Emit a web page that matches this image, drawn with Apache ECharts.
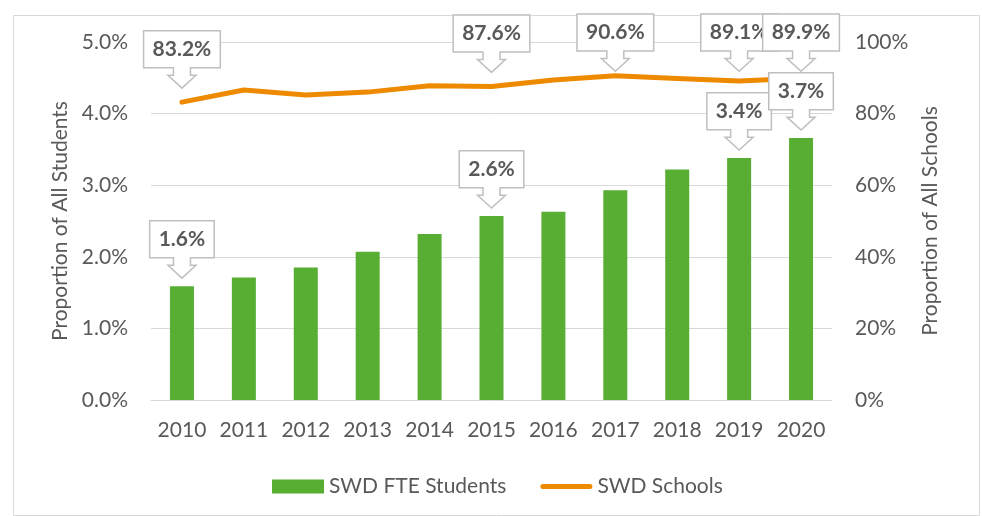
<!DOCTYPE html>
<html>
<head>
<meta charset="utf-8">
<script src="https://cdn.jsdelivr.net/npm/echarts@6/dist/echarts.min.js"></script>
<style>
html,body{margin:0;padding:0;background:#ffffff;}
#chart{width:982px;height:516px;}
</style>
</head>
<body>
<div id="chart"></div>
<script>
// ---- data ----
const years = ['2010','2011','2012','2013','2014','2015','2016','2017','2018','2019','2020'];
const studentsPct = [1.59, 1.71, 1.85, 2.07, 2.32, 2.57, 2.63, 2.93, 3.22, 3.38, 3.66];
const schoolsPct = [83.2, 86.6, 85.2, 86.0, 87.8, 87.6, 89.4, 90.6, 89.8, 89.1, 89.9];
const studentCalloutYears = ['2010','2015','2019','2020'];
const schoolCalloutYears = ['2010','2015','2017','2019','2020'];
const seriesNames = ['SWD FTE Students', 'SWD Schools'];
const axisNames = ['Proportion of All Students', 'Proportion of All Schools'];

// ---- styling ----
const FONT = 'Lato, "Open Sans", sans-serif';
const TEXT = '#595959';
const GRID = '#d9d9d9';
const GREEN = '#57ae33';
const ORANGE = '#ee8a00';
// legend icon for the line: a rounded 5px stroke centred in a 52x14 box
const LINE_ICON = 'path://M0,0L0,0M2.5,4.5L49.5,4.5A2.5,2.5 0 0 1 49.5,9.5L2.5,9.5A2.5,2.5 0 0 1 2.5,4.5ZM52,14L52,14';

const measureCtx = document.createElement('canvas').getContext('2d');

function makeCallout(gap) {
  return function (params, api) {
    const pt = api.coord([api.value(0), api.value(1)]);
    const text = api.value(1).toFixed(1) + '%';
    const font = 'bold 21px ' + FONT;
    measureCtx.font = font;
    const tw = measureCtx.measureText(text).width;
    const w = tw + 18, bh = 37, stemH = 7.5, headH = 12.8;
    const totalH = bh + stemH + headH;
    let tip = pt[1] - gap;
    let top = tip - totalH;
    if (top < 14) { top = 14; tip = top + totalH; }
    const cx = pt[0];
    const L = cx - w / 2, R = cx + w / 2, B = top + bh, H = B + stemH;
    const points = [
      [L, top], [R, top], [R, B], [cx + 8.5, B], [cx + 8.5, H], [cx + 14, H],
      [cx, tip], [cx - 14, H], [cx - 8.5, H], [cx - 8.5, B], [L, B]
    ];
    return {
      type: 'group',
      children: [
        { type: 'polygon', shape: { points: points },
          style: { fill: '#ffffff', stroke: '#bfbfbf', lineWidth: 1.5 } },
        { type: 'text',
          style: { text: text, x: cx, y: top + bh / 2, align: 'center', verticalAlign: 'middle',
                   font: font, fill: TEXT } }
      ]
    };
  };
}

const chart = echarts.init(document.getElementById('chart'), null, { renderer: 'canvas' });

chart.setOption({
  animation: false,
  backgroundColor: '#ffffff',
  textStyle: { fontFamily: FONT },
  graphic: [{
    type: 'rect', left: 11, top: 13, silent: true, z: -10,
    shape: { width: 966, height: 500 },
    style: { fill: 'none', stroke: GRID, lineWidth: 1 }
  }],
  grid: { left: 151, right: 150, top: 42, bottom: 116, containLabel: false },
  legend: {
    left: 267, top: 471,
    itemWidth: 52, itemHeight: 14, itemGap: 34,
    textStyle: { fontSize: 21, color: TEXT, fontFamily: FONT },
    data: [
      { name: seriesNames[0], icon: 'rect', itemStyle: { borderWidth: 0 } },
      { name: seriesNames[1], icon: LINE_ICON, itemStyle: { color: ORANGE, borderWidth: 0 } }
    ]
  },
  xAxis: {
    type: 'category',
    data: years,
    boundaryGap: true,
    axisTick: { show: false },
    axisLine: { lineStyle: { color: GRID, width: 1 } },
    axisLabel: { color: TEXT, fontSize: 21, margin: 20, fontFamily: FONT, interval: 0 }
  },
  yAxis: [{
    type: 'value', min: 0, max: 5, interval: 1,
    axisLine: { show: false }, axisTick: { show: false },
    splitLine: { lineStyle: { color: GRID, width: 1 } },
    axisLabel: { color: TEXT, fontSize: 21, margin: 23, fontFamily: FONT,
                 formatter: v => v.toFixed(1) + '%' },
    name: axisNames[0], nameLocation: 'middle', nameGap: 79, nameRotate: 90,
    nameTextStyle: { color: TEXT, fontSize: 21, fontFamily: FONT }
  }, {
    type: 'value', min: 0, max: 100, interval: 20, position: 'right',
    axisLine: { show: false }, axisTick: { show: false },
    splitLine: { show: false },
    axisLabel: { color: TEXT, fontSize: 21, margin: 23, fontFamily: FONT,
                 formatter: v => v + '%' },
    name: axisNames[1], nameLocation: 'middle', nameGap: 88, nameRotate: 90,
    nameTextStyle: { color: TEXT, fontSize: 21, fontFamily: FONT }
  }],
  series: [{
    name: seriesNames[0], type: 'bar', data: studentsPct,
    xAxisIndex: 0, yAxisIndex: 0, barWidth: 24,
    itemStyle: { color: GREEN }, z: 2
  }, {
    name: seriesNames[1], type: 'line', data: schoolsPct,
    xAxisIndex: 0, yAxisIndex: 1, symbol: 'none',
    lineStyle: { color: ORANGE, width: 5, cap: 'round', join: 'round' },
    itemStyle: { color: ORANGE }, z: 3
  }, {
    name: 'schoolCallouts', type: 'custom', xAxisIndex: 0, yAxisIndex: 1,
    data: schoolCalloutYears.map(y => [y, schoolsPct[years.indexOf(y)]]),
    encode: { x: 0, y: 1 }, renderItem: makeCallout(14), clip: false, silent: true, z: 5
  }, {
    name: 'studentCallouts', type: 'custom', xAxisIndex: 0, yAxisIndex: 0,
    data: studentCalloutYears.map(y => [y, studentsPct[years.indexOf(y)]]),
    encode: { x: 0, y: 1 }, renderItem: makeCallout(8), clip: false, silent: true, z: 6
  }]
});
</script>
</body>
</html>
